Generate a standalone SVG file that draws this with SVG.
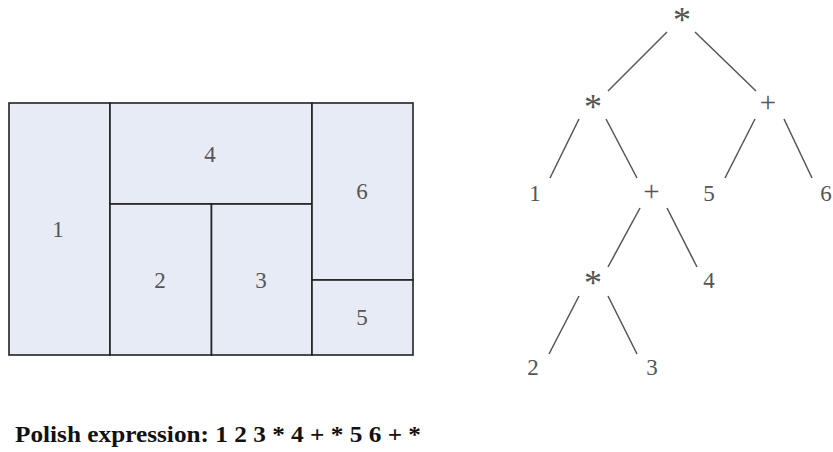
<svg xmlns="http://www.w3.org/2000/svg" width="833" height="452" viewBox="0 0 833 452">
<style>
.box{fill:#e6ebf6;stroke:#222;stroke-width:1.6}
.lbl{font-family:"Liberation Serif","Times New Roman",serif;font-size:23px;fill:#555;text-anchor:middle}
.ast{font-family:"Liberation Serif","Times New Roman",serif;font-size:36px;fill:#555;text-anchor:middle}
.plus{font-family:"Liberation Serif","Times New Roman",serif;font-size:29px;fill:#555;text-anchor:middle}
.edge{stroke:#555;stroke-width:1.5;fill:none}
.cap{font-family:"Liberation Serif","Times New Roman",serif;font-weight:bold;font-size:23px;fill:#111}
</style>
<rect width="833" height="452" fill="#fff"/>
<g id="floorplan">
<g id="room1"><rect class="box" x="9" y="103" width="101" height="252"/><text class="lbl" x="58" y="237">1</text></g>
<g id="room4"><rect class="box" x="110" y="103" width="202" height="101"/><text class="lbl" x="210" y="162">4</text></g>
<g id="room2"><rect class="box" x="110" y="204" width="101.5" height="151"/><text class="lbl" x="160" y="288">2</text></g>
<g id="room3"><rect class="box" x="211.5" y="204" width="100.5" height="151"/><text class="lbl" x="261" y="288">3</text></g>
<g id="room6"><rect class="box" x="312" y="103" width="101" height="177"/><text class="lbl" x="362" y="199">6</text></g>
<g id="room5"><rect class="box" x="312" y="280" width="101" height="75"/><text class="lbl" x="362" y="325">5</text></g>
</g>
<g id="connectors">
<line class="edge" x1="667" y1="32" x2="608" y2="91"/>
<line class="edge" x1="695" y1="32" x2="756" y2="91"/>
<line class="edge" x1="579" y1="119" x2="550" y2="178"/>
<line class="edge" x1="606" y1="119" x2="637" y2="178"/>
<line class="edge" x1="755" y1="119" x2="725" y2="178"/>
<line class="edge" x1="784" y1="119" x2="812" y2="178"/>
<line class="edge" x1="640" y1="208" x2="608" y2="267"/>
<line class="edge" x1="667" y1="208" x2="697" y2="267"/>
<line class="edge" x1="579" y1="296" x2="549" y2="354"/>
<line class="edge" x1="608" y1="296" x2="637" y2="354"/>
</g>
<g id="n-root"><text class="ast" x="682" y="32">*</text></g>
<g id="n-mul1"><text class="ast" x="593" y="119">*</text></g>
<g id="n-plus1"><text class="plus" x="768" y="112">+</text></g>
<g id="n-1"><text class="lbl" x="535" y="201">1</text></g>
<g id="n-plus2"><text class="plus" x="651.5" y="201">+</text></g>
<g id="n-5"><text class="lbl" x="709" y="201">5</text></g>
<g id="n-6"><text class="lbl" x="826" y="201">6</text></g>
<g id="n-mul2"><text class="ast" x="593" y="295">*</text></g>
<g id="n-4"><text class="lbl" x="709" y="288">4</text></g>
<g id="n-2"><text class="lbl" x="533" y="375">2</text></g>
<g id="n-3"><text class="lbl" x="652" y="375">3</text></g>
<text class="cap" x="15" y="442" textLength="406" lengthAdjust="spacingAndGlyphs">Polish expression: 1 2 3 * 4 + * 5 6 + *</text>
</svg>
